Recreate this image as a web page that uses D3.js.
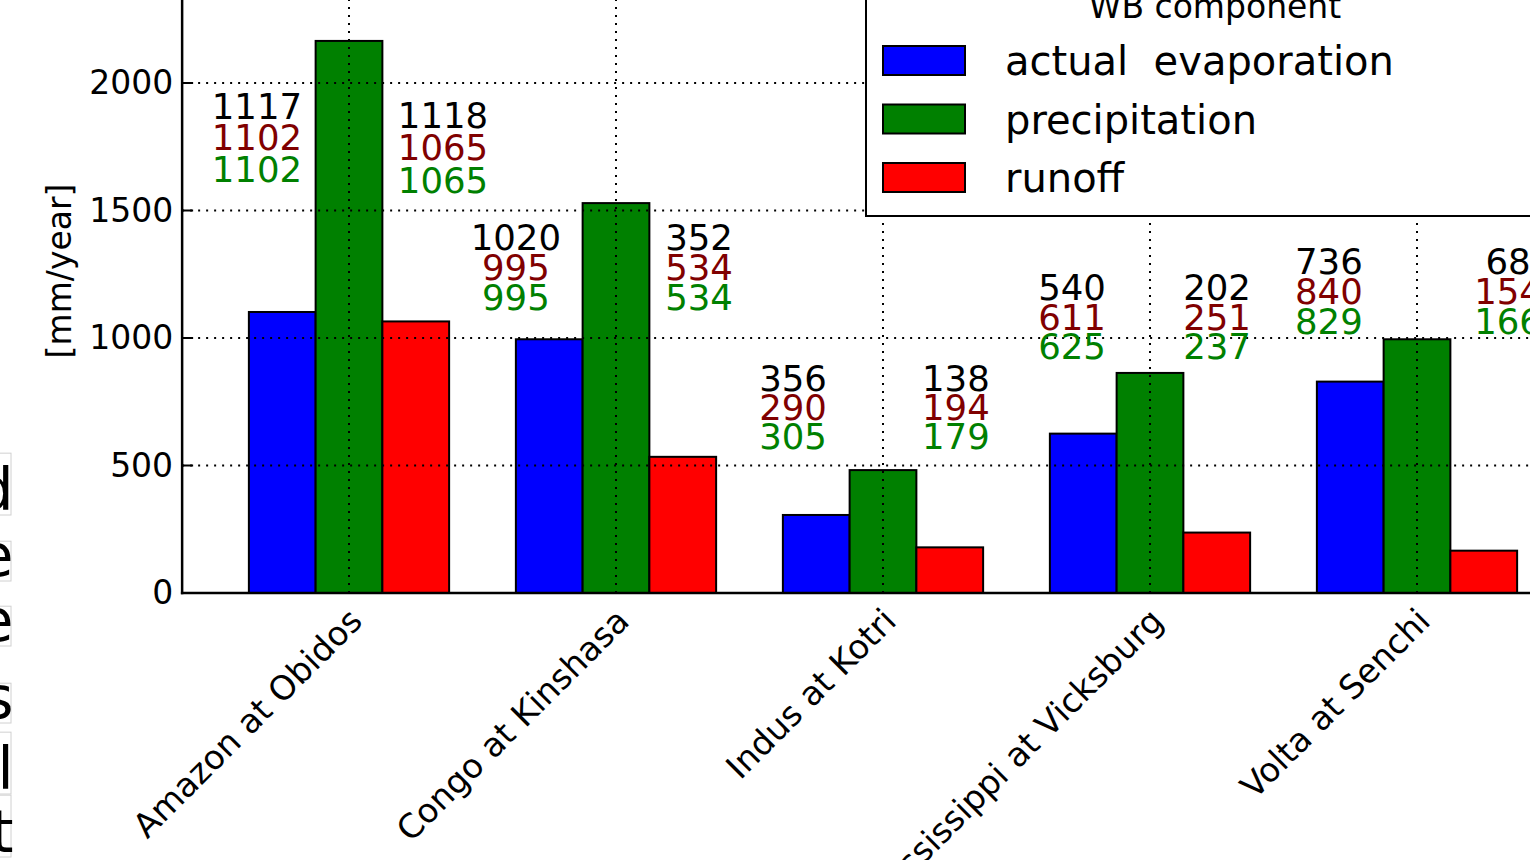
<!DOCTYPE html>
<html>
<head>
<meta charset="utf-8">
<script src="https://cdn.jsdelivr.net/npm/d3@7"></script>
<style>
  html, body { margin: 0; padding: 0; background: #fff; }
  svg { display: block; font-family: "DejaVu Sans", sans-serif; }
  text { white-space: pre; }
</style>
</head>
<body>
<svg id="chart" width="1530" height="860"></svg>
<script>
// ---------- data ----------
const categories = ["Amazon at Obidos", "Congo at Kinshasa", "Indus at Kotri", "Mississippi at Vicksburg", "Volta at Senchi"];
const evaporation   = [1102, 995, 306, 625, 829];
const precipitation = [2165, 1529, 482, 863, 995];
const runoff        = [1065, 534, 179, 237, 166];

const seriesNames  = ["actual  evaporation", "precipitation", "runoff"];
const seriesColors = ["#0000ff", "#008000", "#ff0000"];

const yTicks = [0, 500, 1000, 1500, 2000];
const yLabel = "[mm/year]";
const legendTitle = "WB component";

// annotation numbers (black / dark red / green lines)
const evapLabels   = [[1117, 1102, 1102], [1020, 995, 995], [356, 290, 305], [540, 611, 625], [736, 840, 829]];
const runoffLabels = [[1118, 1065, 1065], [352, 534, 534], [138, 194, 179], [202, 251, 237], [68, 154, 166]];
// annotation anchor in data coordinates (category units, mm/year)
const evapLabelX   = [-0.345, 0.625, 1.663, 2.708, 3.670];
const evapLabelY   = [1859, 1345, 792, 1149, 1251];
const runoffLabelX = [0.352, 1.311, 2.273, 3.251, 4.341];
const runoffLabelY = [1824, 1345, 792, 1149, 1251];
const evapLineGap   = [31.5, 30, 29, 29.5, 30];
const runoffLineGap = [32.5, 30, 29, 29.5, 30];
const labelColors  = ["#000000", "#800000", "#008000"];

// clipped letters at left edge
const sideLetters = ["d", "e", "e", "s", "l", "t"];
const sideBaselines = [510, 576, 641, 718, 789, 852];

// ---------- scales ----------
const svg = d3.select("#chart");
const W = 1530, H = 860;
const x = d3.scaleLinear().domain([0, 1]).range([349, 616]);
const y = d3.scaleLinear().domain([0, 1000]).range([593, 338]);
const xLeft = x(-0.625);
const barW = 0.25;

svg.append("rect").attr("width", W).attr("height", H).attr("fill", "#fff");

// ---------- bars ----------
const seriesValues = [evaporation, precipitation, runoff];
const barsG = svg.append("g");
seriesValues.forEach((vals, s) => {
  barsG.selectAll(null).data(vals).enter().append("rect")
    .attr("x", (d, i) => x(i - 0.375 + s * barW))
    .attr("width", x(barW) - x(0))
    .attr("y", d => y(d))
    .attr("height", d => y(0) - y(d))
    .attr("fill", seriesColors[s])
    .attr("stroke", "#000")
    .attr("stroke-width", 2);
});

// ---------- grid (drawn above bars) ----------
const gridG = svg.append("g").attr("stroke", "#000").attr("stroke-width", 2)
  .attr("stroke-dasharray", "2,6").attr("fill", "none");
gridG.selectAll(null).data(yTicks.slice(1)).enter().append("line")
  .attr("x1", xLeft).attr("x2", W + 50)
  .attr("y1", d => y(d)).attr("y2", d => y(d));
gridG.selectAll(null).data(categories).enter().append("line")
  .attr("x1", (d, i) => x(i)).attr("x2", (d, i) => x(i))
  .attr("y1", y(0)).attr("y2", y(2500));

// ---------- axes ----------
const yAxis = d3.axisLeft(y).tickValues(yTicks).tickSize(0).tickPadding(9).tickFormat(d3.format("d"));
const yG = svg.append("g").attr("transform", `translate(${xLeft},0)`).call(yAxis);
yG.select(".domain").remove();
yG.selectAll("text").attr("font-size", 33).attr("font-family", "DejaVu Sans").attr("fill", "#000");
// inward ticks
svg.append("g").selectAll(null).data(yTicks).enter().append("line")
  .attr("x1", xLeft).attr("x2", xLeft + 11)
  .attr("y1", d => y(d)).attr("y2", d => y(d))
  .attr("stroke", "#000").attr("stroke-width", 2);

// spines
svg.append("line").attr("x1", xLeft).attr("x2", xLeft).attr("y1", y(0) + 1.25).attr("y2", y(2500))
  .attr("stroke", "#000").attr("stroke-width", 2.5);
svg.append("line").attr("x1", xLeft - 1.25).attr("x2", W + 50).attr("y1", y(0)).attr("y2", y(0))
  .attr("stroke", "#000").attr("stroke-width", 2.5);

// x category labels rotated 45°
svg.append("g").selectAll(null).data(categories).enter().append("text")
  .attr("transform", (d, i) => `translate(${x(i) + 4},${y(0) + 2}) rotate(-45)`)
  .attr("x", -12).attr("y", 27.6)
  .attr("text-anchor", "end")
  .attr("font-size", 33.5)
  .attr("fill", "#000")
  .text(d => d);

// y axis label
svg.append("text")
  .attr("transform", `translate(59,${(y(0) + y(2000)) / 2 - 67}) rotate(-90)`)
  .attr("text-anchor", "middle")
  .attr("dominant-baseline", "central")
  .attr("font-size", 33)
  .attr("fill", "#000")
  .text(yLabel);

// ---------- annotations ----------
function drawLabels(labels, lx, ly, gaps) {
  const g = svg.append("g").attr("font-size", 35.5).attr("text-anchor", "middle");
  labels.forEach((lines, i) => {
    lines.forEach((v, k) => {
      g.append("text")
        .attr("x", x(lx[i]))
        .attr("y", y(ly[i]) + k * gaps[i])
        .attr("fill", labelColors[k])
        .text(v);
    });
  });
}
drawLabels(evapLabels, evapLabelX, evapLabelY, evapLineGap);
drawLabels(runoffLabels, runoffLabelX, runoffLabelY, runoffLineGap);

// ---------- legend ----------
const lg = svg.append("g");
lg.append("rect").attr("x", 866).attr("y", -80).attr("width", 698).attr("height", 296)
  .attr("fill", "#fff").attr("stroke", "#000").attr("stroke-width", 2);
lg.append("text").attr("x", 1215).attr("y", 18).attr("text-anchor", "middle")
  .attr("font-size", 33).attr("fill", "#000").text(legendTitle);
seriesNames.forEach((name, s) => {
  const top = 46 + s * 58.5;
  lg.append("rect").attr("x", 883).attr("y", top).attr("width", 82).attr("height", 29)
    .attr("fill", seriesColors[s]).attr("stroke", "#000").attr("stroke-width", 2);
  lg.append("text").attr("x", 1005).attr("y", top + 29).attr("font-size", 40)
    .attr("fill", "#000").text(name);
});

// ---------- clipped letters at the left edge ----------
const sg = svg.append("g");
const tall = new Set(["d", "l", "t"]);
sideLetters.forEach((ch, i) => {
  const fs = 58;
  const t = sg.append("text").attr("x", 13.5).attr("y", sideBaselines[i])
    .attr("text-anchor", "end").attr("font-size", fs).attr("fill", "#000").text(ch);
  const b = t.node().getBBox();
  const top = sideBaselines[i] - (tall.has(ch) ? 0.98 : 0.6) * fs;
  sg.insert("rect", "text").attr("x", b.x - 2).attr("y", top)
    .attr("width", b.x + b.width - 2.5 - (b.x - 2)).attr("height", sideBaselines[i] + 5 - top)
    .attr("fill", "#fff").attr("stroke", "#d0d0d0").attr("stroke-width", 1);
});
</script>
</body>
</html>
